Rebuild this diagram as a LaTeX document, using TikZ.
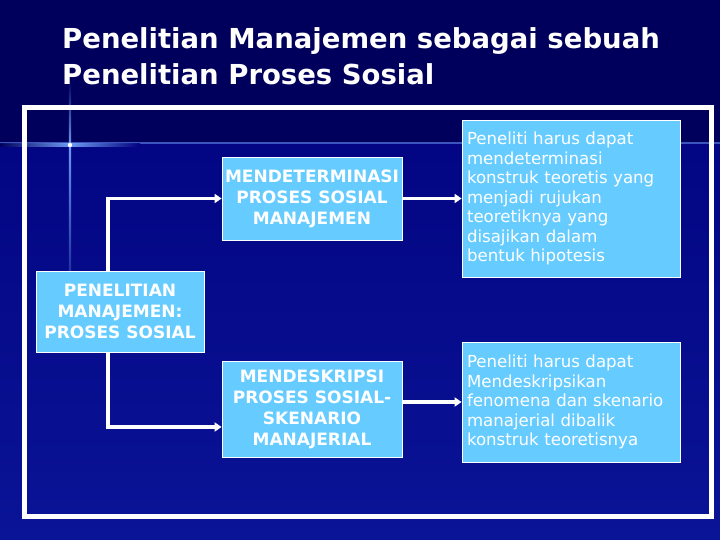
\documentclass[tikz,border=0pt]{standalone}
\usepackage{fontspec}
\setmainfont{DejaVu Sans}
\usetikzlibrary{arrows.meta,positioning}
\definecolor{bgtop}{RGB}{0,0,92}
\definecolor{bgmid}{RGB}{0,0,125}
\definecolor{bgbot}{RGB}{10,20,150}
\definecolor{boxfill}{RGB}{102,204,255}
\definecolor{glow}{RGB}{120,170,255}
\tikzset{
  boldbox/.style={draw=white, line width=0.8pt, fill=boxfill, text=white, align=center,
    font=\bfseries\fontsize{17}{21}\selectfont, inner sep=1pt},
  textbox/.style={draw=white, line width=0.8pt, fill=boxfill, text=white, align=left,
    font=\fontsize{16.6}{19.5}\selectfont, inner sep=5pt, text width=208pt},
  titletext/.style={anchor=base west, text=white, font=\bfseries\fontsize{27.5}{36}\selectfont, inner sep=0pt},
  conn/.style={draw=white, line width=3.5pt, -{Triangle[length=7pt,width=9pt]}}
}
\begin{document}
\begin{tikzpicture}[x=1pt,y=-1pt]
\useasboundingbox (0,0) rectangle (720,540);
% background
\shade[top color=bgmid, bottom color=bgbot] (0,0) rectangle (720,540);
\fill[bgtop] (0,0) rectangle (720,143);
\draw[glow!50!bgmid, line width=1.5pt] (0,143) -- (720,143);
% sparkle
\shade[left color=bgtop, right color=glow, opacity=0.9] (0,144) rectangle (70,146.5);
\shade[left color=glow, right color=bgmid, opacity=0.9] (70,144) rectangle (140,146.5);
\shade[top color=bgtop, bottom color=glow, opacity=0.9] (68.8,80) rectangle (71.2,145);
\shade[top color=glow, bottom color=bgmid, opacity=0.9] (68.8,145) rectangle (71.2,330);
\fill[white] (70,145) circle (2.2pt);
% title
\node[titletext] (title1) at (62,49) {Penelitian Manajemen sebagai sebuah};
\node[titletext] (title2) at (62,85) {Penelitian Proses Sosial};
% frame
\draw[white, line width=5pt] (24,108) rectangle (711,516);
% boxes
\node[boldbox, minimum width=180pt, minimum height=83pt] (A) at (312,198.5)
  {MENDETERMINASI\\PROSES SOSIAL\\MANAJEMEN};
\node[boldbox, minimum width=168pt, minimum height=81pt] (B) at (120,311.5)
  {PENELITIAN\\MANAJEMEN:\\PROSES SOSIAL};
\node[boldbox, minimum width=180pt, minimum height=96pt] (C) at (312,409)
  {MENDESKRIPSI\\PROSES SOSIAL-\\SKENARIO\\MANAJERIAL};
\node[textbox, minimum height=157pt] (D) at (571,198.5)
  {Peneliti harus dapat\\mendeterminasi\\konstruk teoretis yang\\menjadi rujukan\\teoretiknya yang\\disajikan dalam\\bentuk hipotesis};
\node[textbox, minimum height=120pt] (E) at (571,402)
  {Peneliti harus dapat\\Mendeskripsikan\\fenomena dan skenario\\manajerial dibalik\\konstruk teoretisnya};
% connectors
\draw[conn] ([xshift=-12pt]B.north) |- (A.west);
\draw[conn] ([xshift=-12pt]B.south) |- ([yshift=-18pt]C.west);
\draw[conn] (A.east) -- (D.west);
\draw[conn] (C.east |- E.west) -- (E.west);
\end{tikzpicture}
\end{document}
